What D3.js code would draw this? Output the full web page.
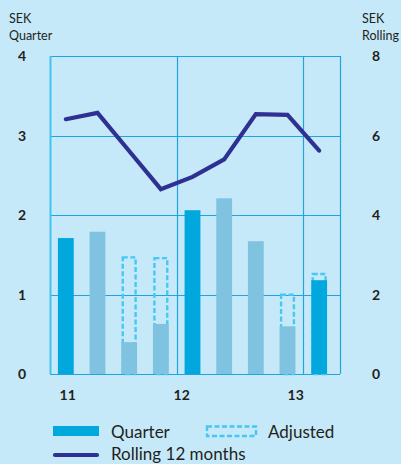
<!DOCTYPE html>
<html>
<head>
<meta charset="utf-8">
<script src="https://cdn.jsdelivr.net/npm/d3@7"></script>
<style>
  body { margin: 0; background: #c6e9f9; }
  text { font-family: Lato, "Open Sans", sans-serif; fill: #231f20; }
</style>
</head>
<body>
<div id="chart"></div>
<script>
// chart data
var quarters = ["Q1 11", "Q2 11", "Q3 11", "Q4 11", "Q1 12", "Q2 12", "Q3 12", "Q4 12", "Q1 13"];
var quarterValues = [1.71, 1.79, 0.40, 0.63, 2.06, 2.21, 1.67, 0.60, 1.18];
var highlighted = [true, false, false, false, true, false, false, false, true];
var adjustedValues = [null, null, 1.48, 1.47, null, null, null, 1.01, 1.27];
var rollingValues = [6.41, 6.57, 5.61, 4.65, 4.96, 5.40, 6.54, 6.52, 5.62];
var leftTicks = [0, 1, 2, 3, 4];
var rightTicks = [0, 2, 4, 6, 8];
var yearLabels = ["11", "12", "13"];
var yearTickAt = [0.06, 3.66, 7.26]; // in quarter index units

var svgWidth = 401;
var svgHeight = 464;

var plot = { left: 50, right: 340, top: 56, bottom: 374 };

var svg = d3.select('#chart')
        .append('svg')
        .attr('width', svgWidth)
        .attr('height', svgHeight);

svg.append('rect')
    .attr('width', svgWidth)
    .attr('height', svgHeight)
    .attr('fill', '#c6e9f9');

//scales
var x = d3.scaleBand()
        .domain(d3.range(quarters.length))
        .range([plot.left, 335])
        .paddingInner(0.5)
        .paddingOuter(0.25);

var xq = d3.scaleLinear()
        .domain([0, 1])
        .range([x(0) + x.bandwidth() / 2, x(1) + x.bandwidth() / 2]);

var yLeft = d3.scaleLinear().domain([0, 4]).range([plot.bottom, plot.top]);
var yRight = d3.scaleLinear().domain([0, 8]).range([plot.bottom, plot.top]);

var gridColor = '#1ea5e0';

//horizontal gridlines
svg.append('g')
    .selectAll('line')
    .data(leftTicks)
    .enter()
    .append('line')
    .attr('x1', plot.left)
    .attr('x2', plot.right)
    .attr('y1', d => Math.round(yLeft(d)) + 0.5)
    .attr('y2', d => Math.round(yLeft(d)) + 0.5)
    .attr('stroke', gridColor)
    .attr('stroke-width', 1.2);

//vertical lines: plot edges and year boundaries
var vLines = [plot.left, x(4) - x.step() * x.paddingInner() / 2, x(8) - x.step() * x.paddingInner() / 2, plot.right];
svg.append('g')
    .selectAll('line')
    .data(vLines)
    .enter()
    .append('line')
    .attr('x1', d => Math.round(d) + 0.5)
    .attr('x2', d => Math.round(d) + 0.5)
    .attr('y1', plot.top)
    .attr('y2', plot.bottom)
    .attr('stroke', (d, i) => i == 0 ? '#45c3f0' : gridColor)
    .attr('stroke-width', (d, i) => i == 0 ? 2 : 1.2);

//adjusted (dashed) bars, behind the quarter bars
svg.append('g')
    .selectAll('rect')
    .data(adjustedValues.map((v, i) => ({ v: v, i: i })).filter(d => d.v != null))
    .enter()
    .append('rect')
    .attr('x', d => x(d.i) + 1.5)
    .attr('width', x.bandwidth() - 3)
    .attr('y', d => yLeft(d.v) + 1)
    .attr('height', d => yLeft(0) - yLeft(d.v) - 1)
    .attr('fill', 'none')
    .attr('stroke', '#45c8f2')
    .attr('stroke-width', 2.4)
    .attr('stroke-dasharray', '5,2.5');

//quarter bars
svg.append('g')
    .selectAll('rect')
    .data(quarterValues)
    .enter()
    .append('rect')
    .attr('x', (d, i) => x(i))
    .attr('width', x.bandwidth())
    .attr('y', d => yLeft(d))
    .attr('height', d => yLeft(0) - yLeft(d))
    .attr('fill', (d, i) => highlighted[i] ? '#00a8de' : '#80c3e1');

//rolling 12 months line
var line = d3.line()
        .x((d, i) => x(i) + x.bandwidth() / 2)
        .y(d => yRight(d));

svg.append('path')
    .datum(rollingValues)
    .attr('d', line)
    .attr('fill', 'none')
    .attr('stroke', '#2e3192')
    .attr('stroke-width', 4.2)
    .attr('stroke-linejoin', 'miter')
    .attr('stroke-linecap', 'round');

//left axis labels
svg.append('g')
    .selectAll('text')
    .data(leftTicks)
    .enter()
    .append('text')
    .attr('x', 22)
    .attr('y', d => yLeft(d) + 5)
    .attr('text-anchor', 'middle')
    .style('font-size', '14px')
    .style('font-weight', 'bold')
    .text(d => d);

//right axis labels
svg.append('g')
    .selectAll('text')
    .data(rightTicks)
    .enter()
    .append('text')
    .attr('x', 376)
    .attr('y', d => yRight(d) + 5)
    .attr('text-anchor', 'middle')
    .style('font-size', '14px')
    .style('font-weight', 'bold')
    .text(d => d);

//year labels
svg.append('g')
    .selectAll('text')
    .data(yearLabels)
    .enter()
    .append('text')
    .attr('x', (d, i) => xq(yearTickAt[i]))
    .attr('y', 400)
    .attr('text-anchor', 'middle')
    .style('font-size', '14px')
    .style('font-weight', 'bold')
    .text(d => d);

//axis titles
svg.append('text').attr('x', 9).attr('y', 23).style('font-size', '12.5px').text('SEK');
svg.append('text').attr('x', 9).attr('y', 40).style('font-size', '12.5px').text('Quarter');
svg.append('text').attr('x', 362).attr('y', 23).style('font-size', '12.5px').text('SEK');
svg.append('text').attr('x', 362).attr('y', 40).style('font-size', '12.5px').text('Rolling');

//legend
var legend = svg.append('g');
legend.append('rect')
    .attr('x', 53).attr('y', 426).attr('width', 46).attr('height', 10)
    .attr('fill', '#00a8de');
legend.append('text')
    .attr('x', 111).attr('y', 438)
    .style('font-size', '17px')
    .text('Quarter');
legend.append('rect')
    .attr('x', 207).attr('y', 426.5).attr('width', 49).attr('height', 9.5)
    .attr('fill', 'none')
    .attr('stroke', '#45c8f2')
    .attr('stroke-width', 2.4)
    .attr('stroke-dasharray', '5,2.5');
legend.append('text')
    .attr('x', 268).attr('y', 438)
    .style('font-size', '17px')
    .text('Adjusted');
legend.append('line')
    .attr('x1', 55).attr('x2', 97).attr('y1', 455).attr('y2', 455)
    .attr('stroke', '#2e3192')
    .attr('stroke-width', 4.2)
    .attr('stroke-linecap', 'round');
legend.append('text')
    .attr('x', 111).attr('y', 460)
    .style('font-size', '17px')
    .text('Rolling 12 months');
</script>
</body>
</html>
